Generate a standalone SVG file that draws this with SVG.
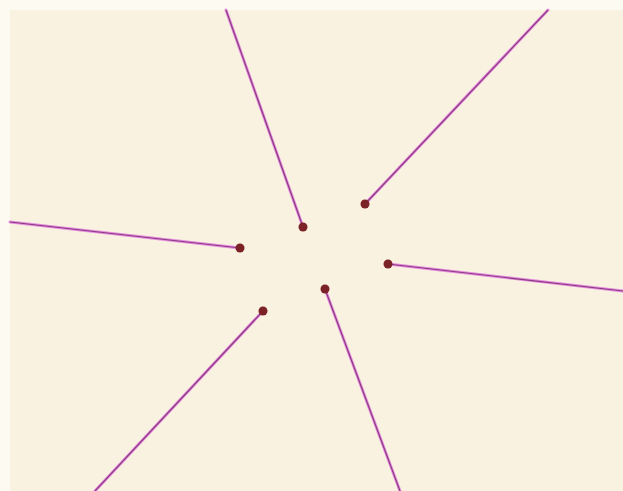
<svg xmlns="http://www.w3.org/2000/svg" width="623" height="491" viewBox="0 0 623 491">
<style>
.halo{stroke:#e48ce0;stroke-width:3;fill:none;stroke-linecap:round}
.core{stroke:#8e3a80;stroke-width:1.2;fill:none}
.dot{fill:#7a2226}
</style>
<rect x="0" y="0" width="623" height="491" fill="#fdfaf2"/>
<rect x="10" y="10" width="613" height="481" fill="#faf2e0"/>
<g id="connectors">
<path class="halo" d="M226 10L303 227M548 10L365 204M10 222L240 248M388 264L623 291M263 311L95 491M325 289L400 491"/>
<path class="core" d="M226 10L303 227M548 10L365 204M10 222L240 248M388 264L623 291M263 311L95 491M325 289L400 491"/>
</g>
<g id="n1"><circle class="dot" cx="303" cy="227" r="4.5"/></g>
<g id="n2"><circle class="dot" cx="365" cy="204" r="4.5"/></g>
<g id="n3"><circle class="dot" cx="240" cy="248" r="4.5"/></g>
<g id="n4"><circle class="dot" cx="388" cy="264" r="4.5"/></g>
<g id="n5"><circle class="dot" cx="263" cy="311" r="4.5"/></g>
<g id="n6"><circle class="dot" cx="325" cy="289" r="4.5"/></g>
</svg>
